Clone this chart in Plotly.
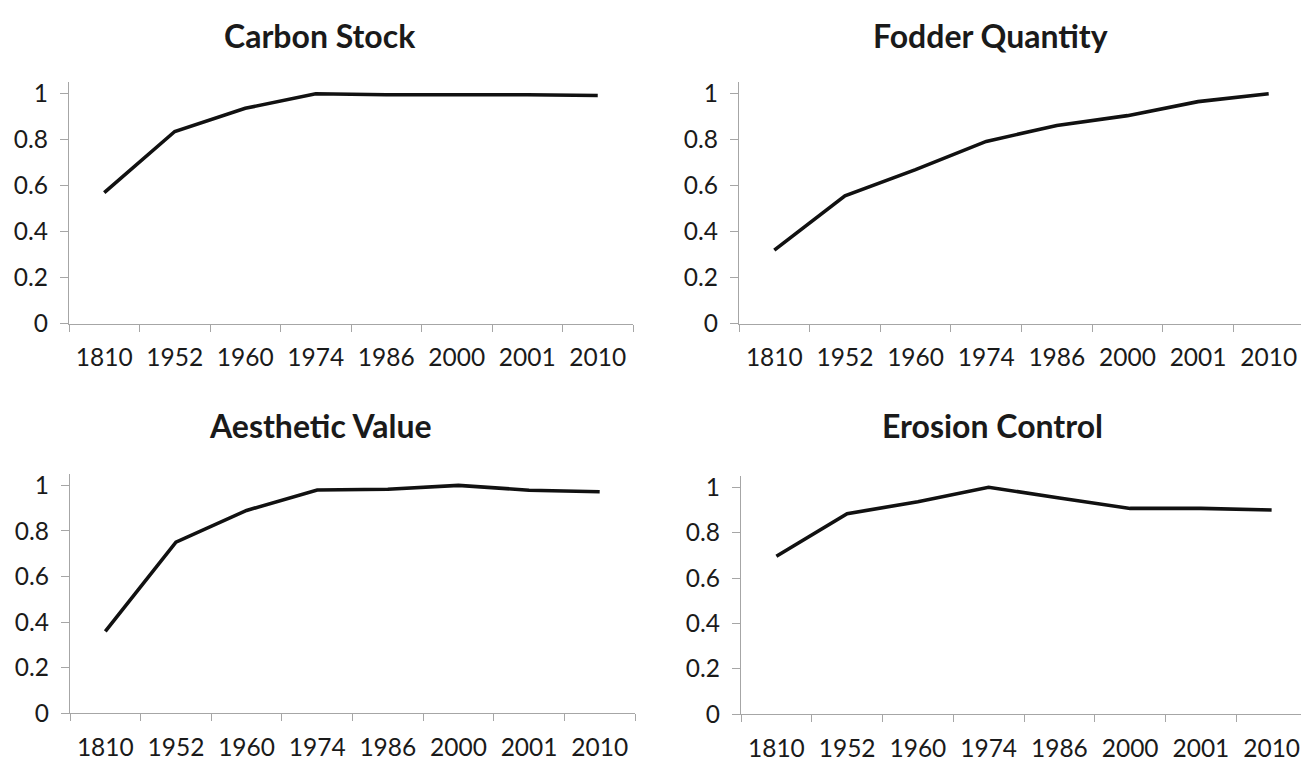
import plotly.graph_objects as go

years = ["1810", "1952", "1960", "1974", "1986", "2000", "2001", "2010"]
titles = ["Carbon Stock", "Fodder Quantity", "Aesthetic Value", "Erosion Control"]
carbon_stock = [0.57, 0.836, 0.937, 1.0, 0.996, 0.997, 0.996, 0.993]
fodder_quantity = [0.32, 0.556, 0.67, 0.793, 0.862, 0.905, 0.966, 1.0]
aesthetic_value = [0.359, 0.751, 0.89, 0.98, 0.983, 1.0, 0.979, 0.972]
erosion_control = [0.696, 0.884, 0.936, 1.0, 0.953, 0.907, 0.907, 0.90]
y_ticks = [0, 0.2, 0.4, 0.6, 0.8, 1]
y_tick_text = ["0", "0.2", "0.4", "0.6", "0.8", "1"]

series = [carbon_stock, fodder_quantity, aesthetic_value, erosion_control]

W, H = 1309, 774
# pixel boxes (left, right, top, bottom)
boxes = [
    (61, 625, 72, 319),
    (731, 1296, 72, 319),
    (62, 627, 473, 718),
    (733, 1299, 475, 719),
]
title_pos = [(312, 24), (983, 24), (312, 423), (984, 423)]

FONT = "Lato, 'Open Sans', sans-serif"
AXIS_COLOR = "#a6a6a6"

fig = go.Figure()
layout = dict(
    width=W, height=H, margin=dict(l=0, r=0, t=0, b=0),
    paper_bgcolor="white", plot_bgcolor="white", showlegend=False,
    annotations=[],
)
for i, (vals, (l, r, t, b)) in enumerate(zip(series, boxes)):
    n = i + 1
    xa = "x" if n == 1 else f"x{n}"
    ya = "y" if n == 1 else f"y{n}"
    fig.add_trace(go.Scatter(x=years, y=vals, mode="lines",
                             line=dict(color="#111111", width=3.6),
                             xaxis=xa, yaxis=ya, hoverinfo="skip"))
    xkey = "xaxis" if n == 1 else f"xaxis{n}"
    ykey = "yaxis" if n == 1 else f"yaxis{n}"
    layout[xkey] = dict(
        domain=[l / W, r / W], anchor=ya, type="category",
        categoryorder="array", categoryarray=years,
        range=[-0.5, len(years) - 0.5],
        showline=True, linecolor=AXIS_COLOR, linewidth=1.3,
        ticks="outside", tickson="boundaries", ticklen=7, tickcolor=AXIS_COLOR,
        tickwidth=1.3, showgrid=False, zeroline=False,
        tickfont=dict(family=FONT, size=24.5, color="#1a1a1a"),
        ticklabelstandoff=12, fixedrange=True,
    )
    layout[ykey] = dict(
        domain=[1 - b / H, 1 - t / H], anchor=xa,
        range=[0, 1.05], tickvals=y_ticks, ticktext=y_tick_text,
        showline=True, linecolor=AXIS_COLOR, linewidth=1.3,
        ticks="outside", ticklen=8, tickcolor=AXIS_COLOR, tickwidth=1.3,
        showgrid=False, zeroline=False,
        tickfont=dict(family=FONT, size=24.5, color="#1a1a1a"),
        ticklabelstandoff=7, fixedrange=True,
    )
    cx, cy = title_pos[i]
    layout["annotations"].append(dict(
        text=f"<b>{titles[i]}</b>", x=cx / W, y=1 - cy / H,
        xref="paper", yref="paper", showarrow=False, xanchor="center", yanchor="middle",
        font=dict(family=FONT, size=32, color="#1a1a1a"),
    ))

fig.update_layout(**layout)
fig.write_html("out.html")
